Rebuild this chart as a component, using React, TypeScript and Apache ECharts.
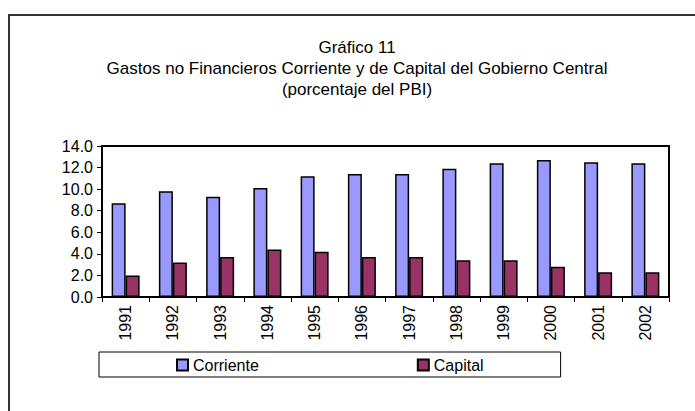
import React, { useEffect, useRef } from "react";
import * as echarts from "echarts";

const years = ["1991", "1992", "1993", "1994", "1995", "1996", "1997", "1998", "1999", "2000", "2001", "2002"];
const corriente = [8.7, 9.8, 9.3, 10.1, 11.2, 11.4, 11.4, 11.9, 12.4, 12.7, 12.5, 12.4];
const capital = [2.0, 3.2, 3.7, 4.4, 4.2, 3.7, 3.7, 3.4, 3.4, 2.8, 2.3, 2.3];
const titleLines = [
  "Gráfico 11",
  "Gastos no Financieros Corriente y de Capital del Gobierno Central",
  "(porcentaje del PBI)",
];

const FONT = "'Liberation Sans', Arial, sans-serif";

export default function App() {
  const ref = useRef<HTMLDivElement>(null);
  useEffect(() => {
    if (!ref.current) return;
    const chart = echarts.init(ref.current, null, { renderer: "svg" });
    chart.setOption({
      animation: false,
      backgroundColor: "#fff",
      textStyle: { fontFamily: FONT },
      title: {
        text: titleLines.join("\n"),
        left: 352,
        textAlign: "center",
        top: 32,
        textStyle: { fontFamily: FONT, fontSize: 17, fontWeight: "normal", color: "#000", lineHeight: 21 },
      },
      graphic: [
        {
          type: "rect",
          shape: { x: 9, y: 15, width: 720, height: 420 },
          style: { fill: "none", stroke: "#333", lineWidth: 2 },
          silent: true,
        },
      ],
      legend: {
        data: ["Corriente", "Capital"],
        left: 99,
        top: 352,
        orient: "horizontal",
        padding: [5, 77, 4, 77],
        itemGap: 158,
        itemWidth: 11,
        itemHeight: 11,
        borderColor: "#000",
        borderWidth: 1,
        textStyle: { fontFamily: FONT, fontSize: 16, color: "#000" },
        icon: "rect",
      },
      grid: {
        left: 102,
        top: 146,
        right: 26,
        bottom: 114,
        show: true,
        borderColor: "#000",
        borderWidth: 2,
        containLabel: false,
      },
      xAxis: {
        type: "category",
        data: years,
        axisLine: { lineStyle: { color: "#000", width: 2 } },
        axisTick: { show: true, length: 5, lineStyle: { color: "#000", width: 1 }, alignWithLabel: false },
        axisLabel: { rotate: 90, fontFamily: FONT, fontSize: 16, color: "#000", margin: 8 },
      },
      yAxis: {
        type: "value",
        min: 0,
        max: 14,
        interval: 2,
        splitLine: { show: false },
        axisLine: { show: true, lineStyle: { color: "#000", width: 2 } },
        axisTick: { show: true, length: 5, lineStyle: { color: "#000", width: 1 } },
        axisLabel: {
          fontFamily: FONT,
          fontSize: 16,
          color: "#000",
          margin: 9,
          formatter: (v: number) => v.toFixed(1),
        },
      },
      series: [
        {
          name: "Corriente",
          type: "bar",
          data: corriente,
          barWidth: 14,
          barGap: "0%",
          itemStyle: { color: "#9999FF", borderColor: "#000", borderWidth: 1.5 },
        },
        {
          name: "Capital",
          type: "bar",
          data: capital,
          barWidth: 14,
          barGap: "0%",
          itemStyle: { color: "#993366", borderColor: "#000", borderWidth: 1.5 },
        },
      ],
    });
    return () => chart.dispose();
  }, []);
  return <div ref={ref} style={{ width: 695, height: 411, position: "absolute", left: 0, top: 0 }} />;
}
